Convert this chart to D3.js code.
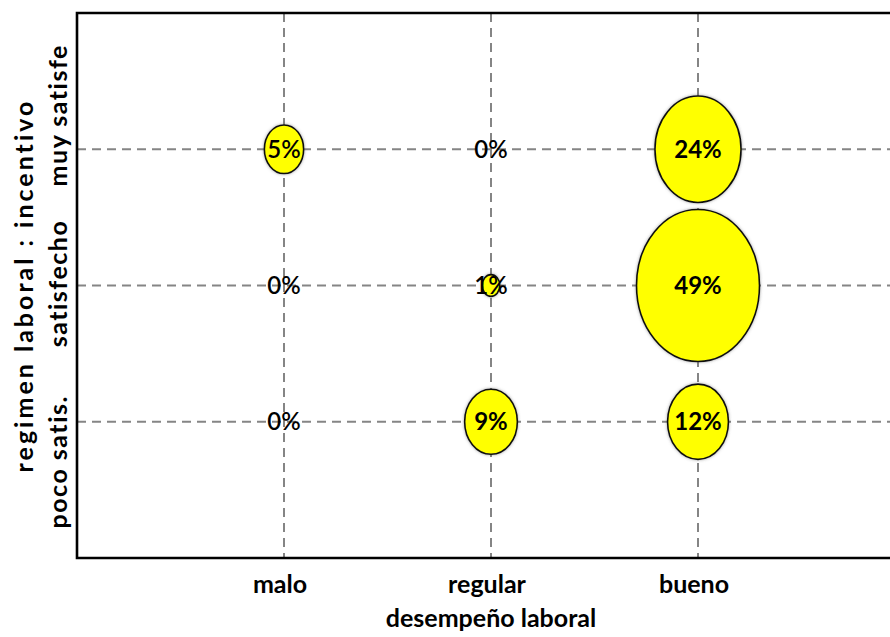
<!DOCTYPE html>
<html><head><meta charset="utf-8">
<script src="https://cdn.jsdelivr.net/npm/d3@7"></script>
<style>
html,body{margin:0;padding:0;background:#fff;}
svg{display:block;font-family:Lato,"Open Sans",sans-serif;}
</style></head>
<body>
<svg id="chart" width="890" height="637"></svg>
<script>
// ---- data ----
const xCategories = ["malo", "regular", "bueno"];
const yCategories = ["poco satis.", "satisfecho", "muy satisfe"];
const xTitle = "desempeño laboral";
const yTitle = "regimen laboral : incentivo";
// percentages, one array per row (yCategories), ordered as xCategories
const rowPocoSatis   = [0, 9, 12];
const rowSatisfecho  = [0, 1, 49];
const rowMuySatisfe  = [5, 0, 24];
const rows = [rowPocoSatis, rowSatisfecho, rowMuySatisfe];

(function () {
// ---- layout ----
const svg = d3.select("#chart");
const mLeft = 77, mTop = 13, mBottom = 558, mRight = 905;

const x = d3.scaleLinear().domain([0, xCategories.length + 1]).range([mLeft, mRight]);
const y = d3.scaleLinear().domain([0, yCategories.length + 1]).range([mBottom, mTop]);
const maxV = d3.max(rows.flat());
const rx = d3.scaleSqrt().domain([0, maxV]).range([0, 61.5]);
const ry = d3.scaleSqrt().domain([0, maxV]).range([0, 76]);

const defs = svg.append("defs");
const f = defs.append("filter").attr("id","glow").attr("x","-30%").attr("y","-30%").attr("width","160%").attr("height","160%");
f.append("feDropShadow").attr("dx",0).attr("dy",0).attr("stdDeviation",1.8)
  .attr("flood-color","#555").attr("flood-opacity",0.55);

// grid
const grid = svg.append("g");
xCategories.forEach((c, i) => {
  grid.append("line").attr("x1", x(i + 1)).attr("x2", x(i + 1))
    .attr("y1", y.range()[1]).attr("y2", y.range()[0])
    .attr("stroke", "#858585").attr("stroke-width", 2).attr("stroke-dasharray", "9,6");
});
yCategories.forEach((c, j) => {
  grid.append("line").attr("y1", y(j + 1)).attr("y2", y(j + 1))
    .attr("x1", x.range()[0]).attr("x2", x.range()[1])
    .attr("stroke", "#858585").attr("stroke-width", 2).attr("stroke-dasharray", "9,6");
});

// bubbles
const cells = [];
rows.forEach((r, j) => r.forEach((v, i) => cells.push({i, j, v})));

svg.append("g").selectAll("ellipse").data(cells.filter(d => d.v > 0)).join("ellipse")
  .attr("cx", d => x(d.i + 1)).attr("cy", d => y(d.j + 1))
  .attr("rx", d => rx(d.v)).attr("ry", d => ry(d.v))
  .attr("fill", "#ffff00").attr("stroke", "#111").attr("stroke-width", 1.6)
  .attr("filter", "url(#glow)");

svg.append("g").selectAll("text").data(cells).join("text")
  .attr("x", d => x(d.i + 1)).attr("y", d => y(d.j + 1))
  .attr("dy", "0.36em").attr("text-anchor", "middle")
  .attr("font-size", 24).attr("font-weight", d => d.v >= 9 ? 700 : 600)
  .attr("fill", "#000")
  .text(d => d.v + "%");

// frame (left, top, bottom; right edge is beyond the view)
svg.append("path")
  .attr("d", `M${x.range()[1]},${y.range()[1]}H${x.range()[0]}V${y.range()[0]}H${x.range()[1]}`)
  .attr("fill", "none").attr("stroke", "#000").attr("stroke-width", 2.6);

// x tick labels
svg.append("g").selectAll("text").data(xCategories).join("text")
  .attr("x", (d, i) => x(i + 1) - 4).attr("y", mBottom + 35)
  .attr("text-anchor", "middle").attr("font-size", 25).attr("font-weight", 700)
  .text(d => d);
svg.append("text").attr("x", x(2)).attr("y", mBottom + 69)
  .attr("text-anchor", "middle").attr("font-size", 25).attr("font-weight", 700)
  .text(xTitle);

// y tick labels (rotated), offsets as in the reference
const yLabelShift = [40, -2, -34];
svg.append("g").selectAll("text").data(yCategories).join("text")
  .attr("transform", (d, j) => `translate(67,${y(j + 1) + yLabelShift[j]}) rotate(-90)`)
  .attr("text-anchor", "middle").attr("font-size", 25).attr("font-weight", 700)
  .attr("letter-spacing", 1.5)
  .text(d => d);
svg.append("text").attr("transform", `translate(33,${(mTop + mBottom) / 2}) rotate(-90)`)
  .attr("text-anchor", "middle").attr("font-size", 25).attr("font-weight", 700)
  .attr("letter-spacing", 3)
  .text(yTitle);
})();
</script>
</body></html>
